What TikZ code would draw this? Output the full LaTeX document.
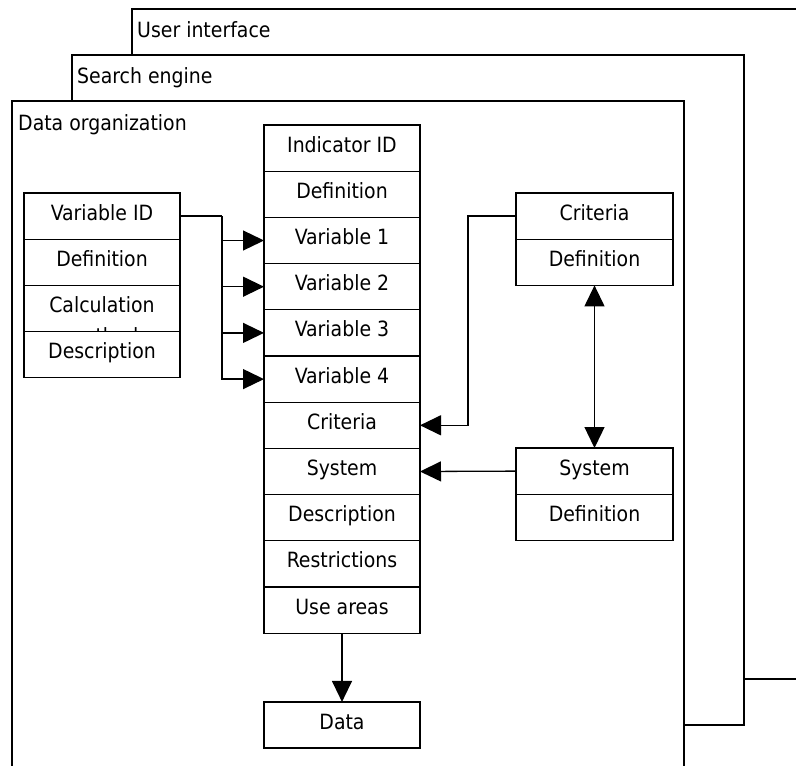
\documentclass[tikz,border=0pt]{standalone}
\usepackage{fontspec}
\setmainfont{DejaVu Sans Condensed}
\usetikzlibrary{positioning,arrows.meta}
\tikzset{
  frame/.style={draw, fill=white, line width=1.3pt},
  lbl/.style={anchor=base west, inner sep=0pt, font=\fontsize{21}{24}\selectfont},
  cell/.style={draw, fill=white, line width=1.3pt, minimum width=156pt, minimum height=46.2pt,
    inner sep=0pt, outer sep=0pt, text height=15pt, text depth=7pt, font=\fontsize{21}{24}\selectfont},
  conn/.style={line width=1.3pt},
  arr/.style={conn, -{Triangle[length=21pt,width=20pt]}}
}
\begin{document}
\begin{tikzpicture}[x=1pt,y=-1pt]
  \useasboundingbox (0,0) rectangle (796,766);
  \clip (0,0) rectangle (796,766);
  \draw[frame] (132,9) rectangle (830,679);
  \node[lbl] (ui) at (137,37) {User interface};
  \draw[frame] (72,55) rectangle (744,725);
  \node[lbl] (se) at (77,83) {Search engine};
  \draw[frame] (12,101) rectangle (684,800);
  \node[lbl] (dorg) at (18,130) {Data organization};

  \node[cell] (ind) at (342,148.1) {Indicator ID};
  \node[cell, below=0pt of ind] (idef) {Definition};
  \node[cell, below=0pt of idef] (var1) {Variable 1};
  \node[cell, below=0pt of var1] (var2) {Variable 2};
  \node[cell, below=0pt of var2] (var3) {Variable 3};
  \node[cell, below=0pt of var3] (var4) {Variable 4};
  \node[cell, below=0pt of var4] (icrit) {Criteria};
  \node[cell, below=0pt of icrit] (isys) {System};
  \node[cell, below=0pt of isys] (idesc) {Description};
  \node[cell, below=0pt of idesc] (irestr) {Restrictions};
  \node[cell, below=0pt of irestr] (iuse) {Use areas};
  \node[cell] (data) at (342,725) {Data};

  \node[cell] (vid) at (102,216.1) {Variable ID};
  \node[cell, below=0pt of vid] (vdef) {Definition};
  \node[cell, below=0pt of vdef] (vcalc) {Calculation};
  \node[lbl, anchor=base] (vcalcm) at ([yshift=-31pt]vcalc.base) {method};
  \node[cell, below=0pt of vcalc] (vdesc) {Description};

  \node[cell, minimum width=157pt] (crit) at (594.5,216.1) {Criteria};
  \node[cell, minimum width=157pt, below=0pt of crit] (critdef) {Definition};
  \node[cell, minimum width=157pt] (sys) at (594.5,471.1) {System};
  \node[cell, minimum width=157pt, below=0pt of sys] (sysdef) {Definition};

  \coordinate (split) at ([xshift=42pt]vid.east);
  \draw[conn] (vid.east) -- (split);
  \foreach \v in {var1,var2,var3,var4}
    \draw[arr] (split) |- (\v.west);
  \draw[arr] (crit.west) -- ++(-48,0) |- (icrit.east);
  \draw[arr] (sys.west) -- (isys.east);
  \draw[conn, {Triangle[length=21pt,width=20pt]}-{Triangle[length=21pt,width=20pt]}] (critdef.south) -- (sys.north);
  \draw[arr] (iuse.south) -- (data.north);
\end{tikzpicture}
\end{document}
